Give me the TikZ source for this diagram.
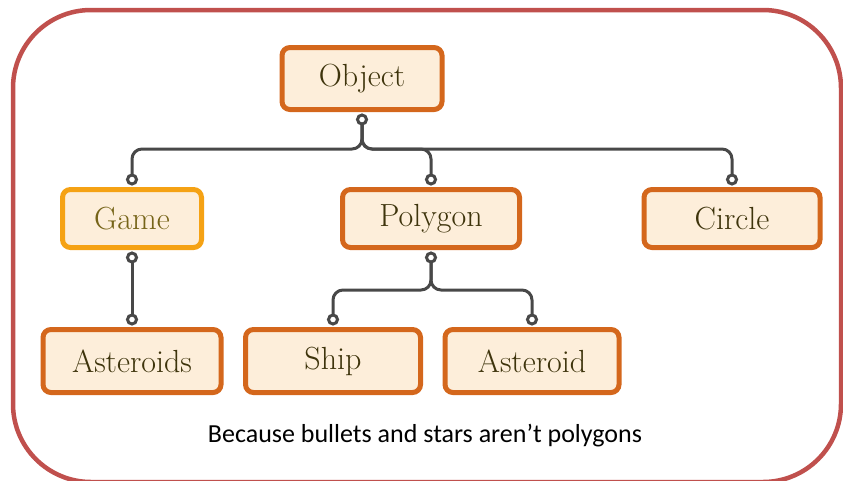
\documentclass[tikz,border=0pt]{standalone}
\usepackage{fontspec}
\usepackage{xcolor}
\usepackage{tikz}
\usetikzlibrary{calc, positioning}

\newfontfamily\chuthichfont{Carlito}

\definecolor{khung}{RGB}{192,80,77}
\definecolor{cam}{RGB}{212,103,28}
\definecolor{vang}{RGB}{245,162,20}
\definecolor{kem}{RGB}{253,238,218}
\definecolor{chu}{RGB}{62,52,12}
\definecolor{chuvang}{RGB}{118,100,24}
\definecolor{xam}{RGB}{72,72,72}

\begin{document}
\begin{tikzpicture}[
    x=1pt, y=-1pt,
    lop/.style={draw=cam, fill=kem, line width=5pt, rounded corners=8pt,
        inner sep=0pt, text=chu, font=\fontsize{32}{35}\selectfont},
    noi/.style={draw=xam, line width=3pt, rounded corners=10pt},
    dau/.style={draw=xam, fill=white, line width=3pt}
]

    \useasboundingbox (0,0) rectangle (843,480);

    % 1. Khung viền ngoài
    \draw[draw=khung, line width=4.5pt, rounded corners=78pt]
        (13,10) rectangle (841,482);

    % 2. Các lớp
    \node[lop, minimum width=160pt, minimum height=62pt]
        (Object) at (362,78.5) {Object};

    \node[lop, draw=vang, text=chuvang, minimum width=139pt, minimum height=58pt]
        (Game) at (132,218.5) {Game};
    \node[lop, minimum width=177pt, minimum height=58pt]
        (Polygon) at (431,218.5) {Polygon};
    \node[lop, minimum width=176pt, minimum height=58pt]
        (Circle) at (732,218.5) {Circle};

    \node[lop, minimum width=178pt, minimum height=63pt]
        (Asteroids) at (132,361) {Asteroids};
    \node[lop, minimum width=175pt, minimum height=63pt]
        (Ship) at (333,361) {Ship};
    \node[lop, minimum width=174pt, minimum height=63pt]
        (Asteroid) at (532,361) {Asteroid};

    % 3. Điểm nối trên/dưới mỗi lớp
    \coordinate (objectOut) at ([yshift=-7.5pt]Object.south);
    \coordinate (gameOut) at ([yshift=-7.5pt]Game.south);
    \coordinate (polygonOut) at ([yshift=-7.5pt]Polygon.south);
    \coordinate (gameIn) at ([yshift=7.5pt]Game.north);
    \coordinate (polygonIn) at ([yshift=7.5pt]Polygon.north);
    \coordinate (circleIn) at ([yshift=7.5pt]Circle.north);
    \coordinate (asteroidsIn) at ([yshift=7.5pt]Asteroids.north);
    \coordinate (shipIn) at ([yshift=7.5pt]Ship.north);
    \coordinate (asteroidIn) at ([yshift=7.5pt]Asteroid.north);

    \coordinate (busTren) at (0,149);
    \coordinate (busDuoi) at (0,290);

    % 4. Đường kế thừa
    \foreach \con in {gameIn, polygonIn, circleIn}
        \draw[noi] (objectOut) -- (objectOut |- busTren)
            -- (\con |- busTren) -- (\con);

    \foreach \con in {shipIn, asteroidIn}
        \draw[noi] (polygonOut) -- (polygonOut |- busDuoi)
            -- (\con |- busDuoi) -- (\con);

    \draw[noi] (gameOut) -- (asteroidsIn);

    % 5. Đầu nối tròn
    \foreach \p in {objectOut, gameOut, polygonOut, gameIn, polygonIn,
                    circleIn, asteroidsIn, shipIn, asteroidIn}
        \draw[dau] (\p) circle (4.5pt);

    % 6. Chú thích
    \node[anchor=base, text=black, font=\chuthichfont\fontsize{26}{30}\selectfont]
        (chuThich) at (425,442) {Because bullets and stars aren’t polygons};

\end{tikzpicture}
\end{document}
